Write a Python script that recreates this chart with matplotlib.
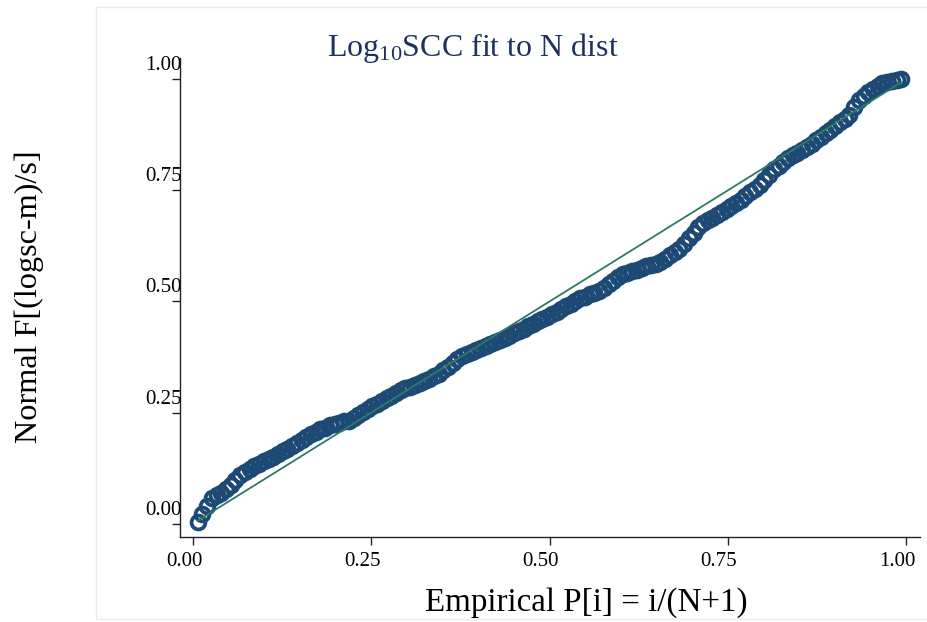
import numpy as np
import matplotlib
matplotlib.use('Agg')
import matplotlib.pyplot as plt
import matplotlib.transforms as mtransforms
from matplotlib.patches import Rectangle

pnorm = [0.004, 0.022, 0.040, 0.057, 0.065, 0.070, 0.077, 0.088, 0.098, 0.109,
         0.116, 0.123, 0.130, 0.135, 0.140, 0.145, 0.151, 0.157, 0.163, 0.169,
         0.175, 0.182, 0.189, 0.196, 0.202, 0.207, 0.212, 0.216, 0.221, 0.224,
         0.227, 0.230, 0.232, 0.238, 0.245, 0.252, 0.258, 0.264, 0.270, 0.276,
         0.282, 0.288, 0.295, 0.301, 0.305, 0.308, 0.312, 0.316, 0.321, 0.326,
         0.332, 0.337, 0.345, 0.353, 0.362, 0.371, 0.377, 0.382, 0.387, 0.391,
         0.396, 0.400, 0.405, 0.409, 0.413, 0.418, 0.423, 0.428, 0.434, 0.439,
         0.444, 0.450, 0.455, 0.461, 0.466, 0.471, 0.477, 0.482, 0.489, 0.495,
         0.501, 0.507, 0.511, 0.516, 0.520, 0.524, 0.531, 0.539, 0.547, 0.555,
         0.561, 0.565, 0.569, 0.572, 0.576, 0.579, 0.582, 0.585, 0.589, 0.596,
         0.604, 0.611, 0.619, 0.630, 0.643, 0.655, 0.668, 0.676, 0.683, 0.689,
         0.695, 0.702, 0.709, 0.716, 0.722, 0.729, 0.737, 0.746, 0.754, 0.762,
         0.773, 0.785, 0.798, 0.806, 0.814, 0.822, 0.829, 0.835, 0.842, 0.848,
         0.855, 0.863, 0.871, 0.879, 0.887, 0.895, 0.903, 0.911, 0.919, 0.937,
         0.954, 0.963, 0.972, 0.979, 0.985, 0.991, 0.995, 0.997, 0.998, 1.000]
ticks = [0, 0.25, 0.5, 0.75, 1.0]
ticklabels = ['0.00', '0.25', '0.50', '0.75', '1.00']

n = len(pnorm)
emp = np.arange(1, n + 1) / (n + 1)   # Empirical P[i] = i/(N+1)

plt.rcParams['font.family'] = ['Liberation Serif', 'DejaVu Serif']
plt.rcParams['mathtext.fontset'] = 'custom'
plt.rcParams['mathtext.rm'] = 'Liberation Serif'
plt.rcParams['mathtext.it'] = 'Liberation Serif:italic'

fig = plt.figure(figsize=(9.28, 6.22), dpi=100)
fig.patches.append(Rectangle((96 / 928, 1 - 619 / 622), 1.0, 612 / 622,
                             transform=fig.transFigure, fill=False,
                             edgecolor='#e4eef0', linewidth=1.0))

ax = fig.add_axes([180 / 928, 1 - 537 / 622, 740 / 928, 479 / 622])
ax.plot(emp, pnorm, 'o', mfc='none', mec='#1c4a74', ms=10, mew=2.7, zorder=2)
ax.plot([emp[0], emp[-1]], [emp[0], emp[-1]], color='#2e7a64', lw=1.3, zorder=3)

ax.set_xlim(-0.0182, 1.0196)
ax.set_ylim(-0.030, 1.048)
for s in ['top', 'right']:
    ax.spines[s].set_visible(False)
for s in ['left', 'bottom']:
    ax.spines[s].set_linewidth(1.0)
    ax.spines[s].set_color('#222222')

ax.set_xticks(ticks)
ax.set_xticklabels(ticklabels)
ax.set_yticks(ticks)
ax.set_yticklabels(ticklabels)
ax.tick_params(direction='out', length=6, width=1, colors='#222222',
               labelsize=15, labelcolor='black')
ax.tick_params(axis='y', pad=0)
ax.tick_params(axis='x', pad=5)

# shift tick labels the way the original renders them
dx = mtransforms.ScaledTranslation(-9 / 100, 0, fig.dpi_scale_trans)
for lab in ax.get_xticklabels():
    lab.set_transform(lab.get_transform() + dx)
dy = mtransforms.ScaledTranslation(10 / 100, 16 / 100, fig.dpi_scale_trans)
for lab in ax.get_yticklabels():
    lab.set_transform(lab.get_transform() + dy)

fig.text(473 / 928, 1 - 48 / 622, r'Log$_{\mathrm{10}}$SCC fit to N dist',
         ha='center', va='center', fontsize=23, color='#1e3160')
fig.text(586 / 928, 1 - 603 / 622, 'Empirical P[i] = i/(N+1)',
         ha='center', va='center', fontsize=23.8)
fig.text(29 / 928, 1 - 297 / 622, 'Normal F[(logsc-m)/s]',
         ha='center', va='center', rotation=90, fontsize=23.2)

fig.savefig('out.png', dpi=100, facecolor='white')
